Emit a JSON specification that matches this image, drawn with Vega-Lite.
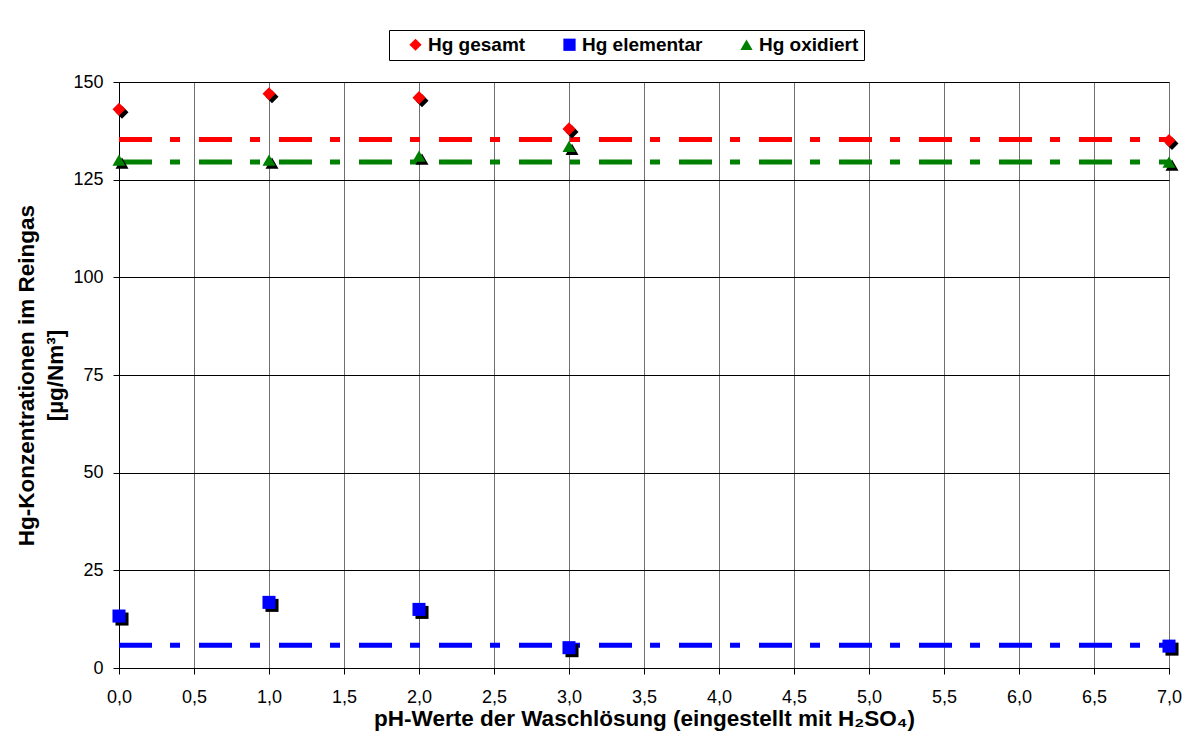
{
  "$schema": "https://vega.github.io/schema/vega-lite/v6.json",
  "width": 1050,
  "height": 586,
  "autosize": {"type": "none"},
  "padding": {"left": 119, "top": 82, "right": 31, "bottom": 72},
  "background": "white",
  "config": {
    "view": {"stroke": "#808080", "strokeWidth": 1},
    "font": "Liberation Sans",
    "axis": {
      "labelFont": "Liberation Sans",
      "labelFontSize": 18,
      "labelColor": "black",
      "titleFont": "Liberation Sans",
      "titleFontSize": 22.5,
      "titleFontWeight": "bold",
      "titleColor": "black",
      "domainColor": "black",
      "tickColor": "black",
      "tickSize": 6,
      "gridOpacity": 1,
      "labelFlush": false,
      "labelOverlap": false
    },
    "legend": {
      "orient": "none",
      "legendX": 270,
      "legendY": -52,
      "direction": "horizontal",
      "strokeColor": "black",
      "fillColor": "white",
      "padding": 5,
      "labelFont": "Liberation Sans",
      "labelFontSize": 19,
      "labelFontWeight": "bold",
      "labelColor": "black",
      "symbolSize": 150,
      "symbolOpacity": 1,
      "symbolStrokeWidth": 0,
      "symbolOffset": 12,
      "columnPadding": 22,
      "labelOffset": 3,
      "title": null
    }
  },
  "datasets": {
    "points": [
      {"ph": 0, "value": 143, "series": "Hg gesamt"},
      {"ph": 1, "value": 147, "series": "Hg gesamt"},
      {"ph": 2, "value": 146, "series": "Hg gesamt"},
      {"ph": 3, "value": 138, "series": "Hg gesamt"},
      {"ph": 7, "value": 135, "series": "Hg gesamt"},
      {"ph": 0, "value": 13.3, "series": "Hg elementar"},
      {"ph": 1, "value": 16.8, "series": "Hg elementar"},
      {"ph": 2, "value": 15, "series": "Hg elementar"},
      {"ph": 3, "value": 5.2, "series": "Hg elementar"},
      {"ph": 7, "value": 5.6, "series": "Hg elementar"},
      {"ph": 0, "value": 130, "series": "Hg oxidiert"},
      {"ph": 1, "value": 130, "series": "Hg oxidiert"},
      {"ph": 2, "value": 131, "series": "Hg oxidiert"},
      {"ph": 3, "value": 133.5, "series": "Hg oxidiert"},
      {"ph": 7, "value": 129.5, "series": "Hg oxidiert"}
    ],
    "means": [
      {"series": "Hg gesamt", "mean": 135.3},
      {"series": "Hg elementar", "mean": 5.8},
      {"series": "Hg oxidiert", "mean": 129.5}
    ]
  },
  "layer": [
    {
      "data": {"name": "means"},
      "mark": {"type": "rule", "strokeWidth": 5, "strokeDash": [33, 18, 10, 19]},
      "encoding": {
        "x": {
          "datum": 0,
          "type": "quantitative",
          "scale": {"domain": [0, 7], "nice": false, "zero": false},
          "axis": {
            "title": "pH-Werte der Waschlösung (eingestellt mit H₂SO₄)",
            "values": [0, 0.5, 1, 1.5, 2, 2.5, 3, 3.5, 4, 4.5, 5, 5.5, 6, 6.5, 7],
            "labelExpr": "replace(format(datum.value, '.1f'), '.', ',')",
            "grid": true,
            "gridColor": "#707070",
            "titlePadding": 1,
            "labelPadding": 14
          }
        },
        "x2": {"datum": 7},
        "y": {
          "field": "mean",
          "type": "quantitative",
          "scale": {"domain": [0, 150], "nice": false},
          "axis": {
            "title": ["Hg-Konzentrationen im Reingas", "[µg/Nm³]"],
            "values": [0, 25, 50, 75, 100, 125, 150],
            "grid": true,
            "gridColor": "black",
            "titlePadding": 5,
            "titleLineHeight": 29,
            "labelPadding": 10
          }
        },
        "color": {
          "field": "series",
          "type": "nominal",
          "scale": {"domain": ["Hg gesamt", "Hg elementar", "Hg oxidiert"], "range": ["#ff0000", "#0000ff", "#008000"]}
        }
      }
    },
    {
      "data": {"name": "points"},
      "mark": {"type": "point", "filled": true, "opacity": 1, "size": 170, "color": "black", "xOffset": 3, "yOffset": 3},
      "encoding": {
        "x": {"field": "ph", "type": "quantitative"},
        "y": {"field": "value", "type": "quantitative"},
        "shape": {
          "field": "series",
          "type": "nominal",
          "scale": {"domain": ["Hg gesamt", "Hg elementar", "Hg oxidiert"], "range": ["diamond", "square", "triangle-up"]}
        }
      }
    },
    {
      "data": {"name": "points"},
      "mark": {"type": "point", "filled": true, "opacity": 1, "size": 170},
      "encoding": {
        "x": {"field": "ph", "type": "quantitative"},
        "y": {"field": "value", "type": "quantitative"},
        "color": {
          "field": "series",
          "type": "nominal",
          "scale": {"domain": ["Hg gesamt", "Hg elementar", "Hg oxidiert"], "range": ["#ff0000", "#0000ff", "#008000"]}
        },
        "shape": {
          "field": "series",
          "type": "nominal",
          "scale": {"domain": ["Hg gesamt", "Hg elementar", "Hg oxidiert"], "range": ["diamond", "square", "triangle-up"]}
        }
      }
    }
  ]
}
